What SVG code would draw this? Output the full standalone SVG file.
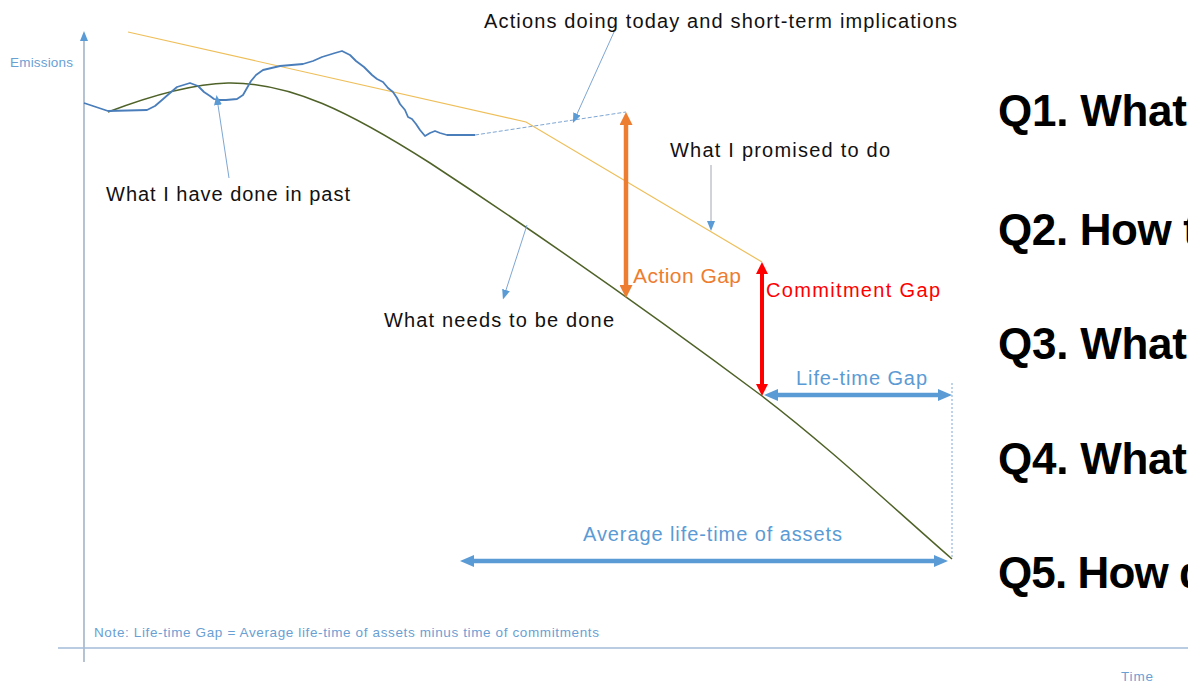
<svg xmlns="http://www.w3.org/2000/svg" width="1188" height="683" viewBox="0 0 1188 683">
<style>
.lbl{font-family:"Liberation Sans",Arial,sans-serif;font-size:20px;fill:#111}
.small{font-family:"Liberation Sans",Arial,sans-serif;font-size:13.5px;fill:#6a9fd4}
.q{font-family:"Liberation Sans",Arial,sans-serif;font-size:44px;font-weight:bold;fill:#000}
.ptr{stroke:#7ea6d3;stroke-width:1;fill:none}
</style>
<defs>
<marker id="pa" markerUnits="userSpaceOnUse" markerWidth="10" markerHeight="8" refX="0" refY="4" orient="auto" viewBox="0 0 10 8"><path d="M0,0 L10,4 L0,8 z" fill="#5b9bd5"/></marker>
<marker id="ao" markerUnits="userSpaceOnUse" markerWidth="13" markerHeight="13" refX="0" refY="6.5" orient="auto-start-reverse" viewBox="0 0 13 13"><path d="M0,0 L13,6.5 L0,13 z" fill="#ed7d31"/></marker>
<marker id="ar" markerUnits="userSpaceOnUse" markerWidth="12" markerHeight="12" refX="0" refY="6" orient="auto-start-reverse" viewBox="0 0 12 12"><path d="M0,0 L12,6 L0,12 z" fill="#ff0000"/></marker>
<marker id="ab" markerUnits="userSpaceOnUse" markerWidth="14" markerHeight="12" refX="0" refY="6" orient="auto-start-reverse" viewBox="0 0 14 12"><path d="M0,0 L14,6 L0,12 z" fill="#5b9bd5"/></marker>
</defs>

<g id="axes">
<line x1="84" y1="40" x2="84" y2="662" stroke="#8fa2bb" stroke-width="1.3"/>
<path d="M84,31 L80,41 L88,41 z" fill="#5b9bd5"/>
<line x1="58" y1="648" x2="1188" y2="648" stroke="#a3bbd8" stroke-width="1.3"/>
<text class="small" x="10" y="67" textLength="63">Emissions</text>
<text class="small" x="1121" y="681" textLength="32">Time</text>
<text class="small" x="94" y="637" textLength="505">Note: Life-time Gap = Average life-time of assets minus time of commitments</text>
</g>

<g id="curves" fill="none">
<path id="needed" d="M108,112 C150,96 190,84 228,83 C290,82 350,112 430,163 C520,222 640,305 762,396 C830,448 890,505 952,559" stroke="#4f6228" stroke-width="1.5"/>
<polyline id="promised" points="128,32 526,122 762,262" stroke="#eebf5a" stroke-width="1.2"/>
<polyline id="done" points="84,103 108,111 147,110 155,106 162,100 170,93 177,87 190,83 198,86 204,92 210,96 214,99 218,100 226,100 237,99 243,95 247,88 251,81 256,75 263,70 280,66 303,64 313,61 322,57 335,53 342,51 350,55 356,61 364,67 372,75 377,79 383,82 388,88 393,92 397,98 400,104 405,110 408,117 412,119 416,124 420,130 425,136 430,133 435,131 440,133 447,135 475,135" stroke="#4a7ebb" stroke-width="1.8" stroke-linejoin="round"/>
<line x1="475" y1="135" x2="626" y2="112" stroke="#7ea6d3" stroke-width="1" stroke-dasharray="4 2"/>
<line x1="952" y1="383" x2="952" y2="557" stroke="#7ea6d3" stroke-width="1" stroke-dasharray="2 2"/>
</g>

<g id="connectors">
<line class="ptr" x1="614" y1="32" x2="577" y2="114" marker-end="url(#pa)"/>
<line class="ptr" x1="229" y1="178" x2="218" y2="105" marker-end="url(#pa)"/>
<line class="ptr" x1="711" y1="165" x2="711" y2="221" stroke="#a0a8b4" marker-end="url(#pa)" style="stroke:#a0a8b4"/>
<line class="ptr" x1="527" y1="225" x2="506" y2="290" marker-end="url(#pa)"/>
</g>

<g id="action-gap">
<line x1="626" y1="125" x2="626" y2="285" stroke="#ed7d31" stroke-width="4.5" marker-start="url(#ao)" marker-end="url(#ao)"/>
<text class="lbl" x="633" y="283" style="fill:#ed7d31;font-size:21px" textLength="108">Action Gap</text>
</g>
<g id="commitment-gap">
<line x1="762" y1="274" x2="762" y2="384" stroke="#ff0000" stroke-width="4" marker-start="url(#ar)" marker-end="url(#ar)"/>
<text class="lbl" x="766" y="297" style="fill:#ff0000" textLength="174">Commitment Gap</text>
</g>
<g id="lifetime-gap">
<line x1="778" y1="395" x2="938" y2="395" stroke="#5b9bd5" stroke-width="4.5" marker-start="url(#ab)" marker-end="url(#ab)"/>
<text class="lbl" x="796" y="385" style="fill:#5b9bd5" textLength="131">Life-time Gap</text>
</g>
<g id="avg-lifetime">
<line x1="474" y1="561" x2="934" y2="561" stroke="#5b9bd5" stroke-width="4.5" marker-start="url(#ab)" marker-end="url(#ab)"/>
<text class="lbl" x="583" y="541" style="fill:#5b9bd5" textLength="259">Average life-time of assets</text>
</g>

<g id="labels">
<text class="lbl" x="484" y="28" textLength="473">Actions doing today and short-term implications</text>
<text class="lbl" x="106" y="201" textLength="244">What I have done in past</text>
<text class="lbl" x="670" y="157" textLength="220">What I promised to do</text>
<text class="lbl" x="384" y="327" textLength="230">What needs to be done</text>
</g>

<g id="questions">
<text class="q" x="998" y="126" textLength="189">Q1. What</text>
<text class="q" x="998" y="245" textLength="200">Q2. How t</text>
<text class="q" x="998" y="359" textLength="189">Q3. What</text>
<text class="q" x="998" y="474" textLength="189">Q4. What</text>
<text class="q" x="998" y="588" textLength="208">Q5. How d</text>
</g>
</svg>
